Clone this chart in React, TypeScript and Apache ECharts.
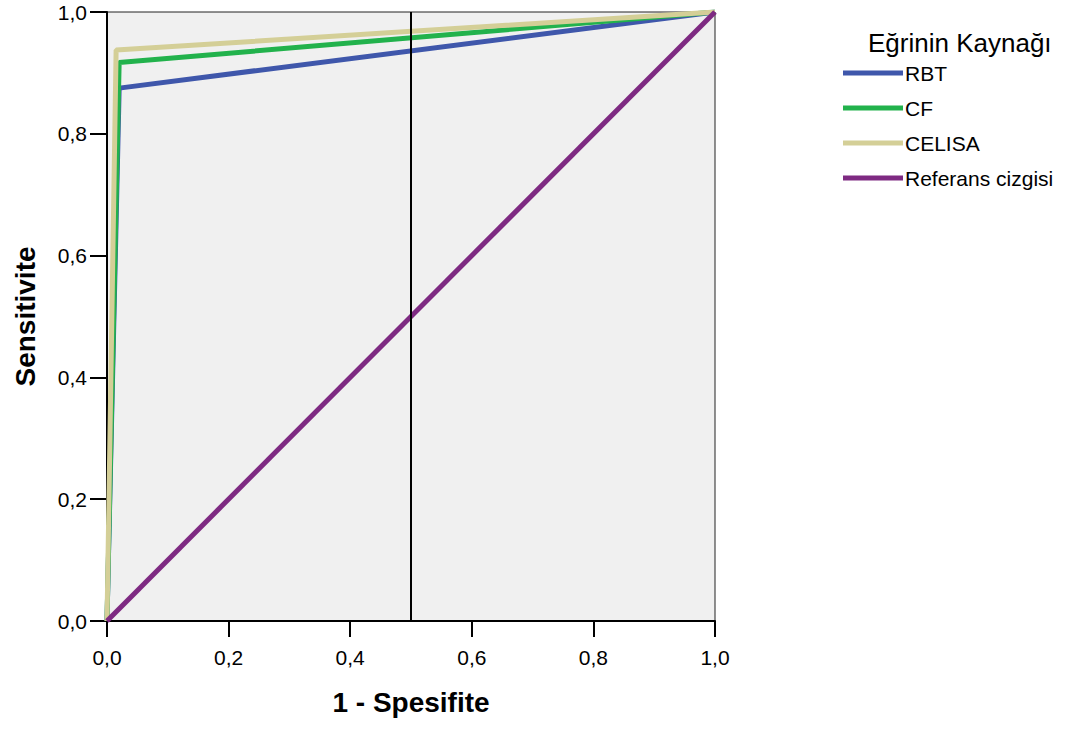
import React, { useEffect, useRef } from "react";
import * as echarts from "echarts";

const seriesNames = ["RBT", "CF", "CELISA", "Referans cizgisi"];
const rbtPoints: [number, number][] = [[0, 0], [0.02, 0.875], [1, 1]];
const cfPoints: [number, number][] = [[0, 0], [0.02, 0.917], [1, 1]];
const celisaPoints: [number, number][] = [[0, 0], [0.015, 0.9375], [1, 1]];
const referencePoints: [number, number][] = [[0, 0], [1, 1]];
const verticalLinePoints: [number, number][] = [[0.5, 0], [0.5, 1]];
const seriesColors = ["#3f57ab", "#22b24c", "#d4cf97", "#7e2a82"];

const FONT = "'Liberation Sans', Arial, sans-serif";
const fmt = (v: number) => v.toFixed(1).replace(".", ",");

export default function App() {
  const ref = useRef<HTMLDivElement>(null);
  useEffect(() => {
    document.body.style.margin = "0";
    const chart = echarts.init(ref.current!, undefined, { renderer: "svg" });
    const data = [rbtPoints, cfPoints, celisaPoints, referencePoints];
    chart.setOption({
      animation: false,
      textStyle: { fontFamily: FONT },
      grid: {
        left: 107,
        top: 12,
        width: 608,
        height: 609,
        show: true,
        backgroundColor: "#f0f0f0",
        borderColor: "#222",
        borderWidth: 1,
      },
      xAxis: {
        type: "value",
        min: 0,
        max: 1,
        interval: 0.2,
        name: "1 - Spesifite",
        nameLocation: "middle",
        nameGap: 67,
        nameTextStyle: { fontSize: 28, fontWeight: "bold", color: "#000", fontFamily: FONT },
        axisLine: { show: true, lineStyle: { color: "#000", width: 2 } },
        axisTick: { show: true, length: 16, lineStyle: { color: "#000", width: 2 } },
        axisLabel: { formatter: fmt, fontSize: 21, color: "#000", margin: 26, fontFamily: FONT },
        splitLine: { show: false },
      },
      yAxis: {
        type: "value",
        min: 0,
        max: 1,
        interval: 0.2,
        name: "Sensitivite",
        nameLocation: "middle",
        nameGap: 68,
        nameTextStyle: { fontSize: 28, fontWeight: "bold", color: "#000", fontFamily: FONT },
        axisLine: { show: true, lineStyle: { color: "#000", width: 2 } },
        axisTick: { show: true, length: 17, lineStyle: { color: "#000", width: 2 } },
        axisLabel: { formatter: fmt, fontSize: 21, color: "#000", margin: 20, fontFamily: FONT },
        splitLine: { show: false },
      },
      legend: {
        orient: "vertical",
        left: 843,
        top: 61,
        padding: 0,
        itemWidth: 60,
        itemHeight: 5,
        itemGap: 11,
        icon: "rect",
        data: seriesNames,
        textStyle: { fontSize: 21, color: "#000", padding: [0, 0, 0, -3], lineHeight: 24, fontFamily: FONT },
      },
      graphic: [
        {
          type: "text",
          left: 868,
          top: 30,
          style: { text: "Eğrinin Kaynağı", fontSize: 26, fill: "#000", fontFamily: FONT },
        },
      ],
      series: [
        ...data.map((d, i) => ({
          type: "line",
          name: seriesNames[i],
          data: d,
          symbol: "none",
          lineStyle: { color: seriesColors[i], width: 5 },
          itemStyle: { color: seriesColors[i] },
          z: 2 + i,
        })),
        {
          type: "line",
          name: "x05",
          data: verticalLinePoints,
          symbol: "none",
          lineStyle: { color: "#000", width: 2 },
          z: 10,
        },
      ],
    });
    return () => chart.dispose();
  }, []);
  return <div ref={ref} style={{ width: 1073, height: 731 }} />;
}
